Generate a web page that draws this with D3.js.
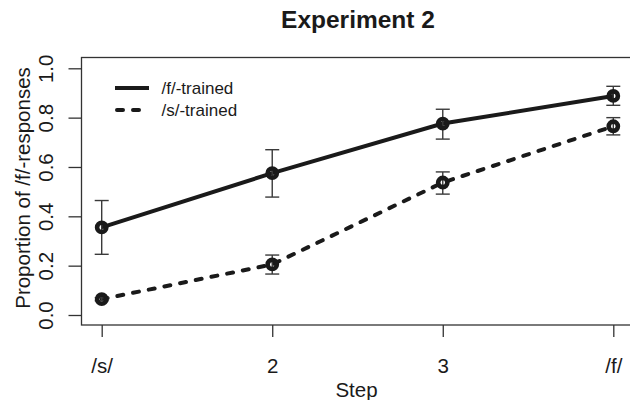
<!DOCTYPE html>
<html>
<head>
<meta charset="utf-8">
<script src="https://cdn.jsdelivr.net/npm/d3@7"></script>
<style>
  body { margin: 0; background: #fff; }
  svg { display: block; font-family: "Liberation Sans", Arial, sans-serif; }
</style>
</head>
<body>
<svg id="chart"></svg>
<script>
var steps = ["/s/", "2", "3", "/f/"];
var fTrained = [0.355, 0.575, 0.776, 0.888];
var fLow = [0.246, 0.478, 0.713, 0.850];
var fHigh = [0.464, 0.670, 0.834, 0.927];
var sTrained = [0.064, 0.205, 0.537, 0.765];
var sLow = [0.058, 0.166, 0.490, 0.730];
var sHigh = [0.070, 0.243, 0.580, 0.800];
var yTicks = [0, 0.2, 0.4, 0.6, 0.8, 1.0];

var width = 630;
var height = 400;

var boxLeft = 81.5;
var boxRight = 631;
var boxTop = 57.5;
var boxBottom = 325;

var svg = d3.select("#chart")
            .attr("width", width)
            .attr("height", height);

var x = d3.scalePoint()
          .domain(steps)
          .range([101.7, 613.3]);

var y = d3.scaleLinear()
          .domain([0, 1])
          .range([315, 68.3]);

var ink = "#1a1a1a";
var axisInk = "#333";

// plot box
svg.append("rect")
   .attr("x", boxLeft)
   .attr("y", boxTop)
   .attr("width", boxRight - boxLeft)
   .attr("height", boxBottom - boxTop)
   .attr("fill", "none")
   .attr("stroke", axisInk)
   .attr("stroke-width", 1.3);

// x axis
var xAxis = d3.axisBottom(x).tickSize(12).tickPadding(21);
var gx = svg.append("g")
            .attr("transform", "translate(0," + boxBottom + ")")
            .call(xAxis);
gx.select(".domain").remove();
gx.selectAll("line").attr("stroke", axisInk).attr("stroke-width", 1.3);
gx.selectAll("text")
  .attr("fill", ink)
  .attr("font-size", 20.5)
  .attr("dy", "0.71em");

// y axis, labels rotated like base R
var yAxis = d3.axisLeft(y).tickValues(yTicks).tickSize(13).tickFormat(d3.format(".1f"));
var gy = svg.append("g")
            .attr("transform", "translate(" + boxLeft + ",0)")
            .call(yAxis);
gy.select(".domain").remove();
gy.selectAll("line").attr("stroke", axisInk).attr("stroke-width", 1.3);
gy.selectAll("text")
  .attr("fill", ink)
  .attr("font-size", 20.5)
  .attr("x", null)
  .attr("y", null)
  .attr("dy", null)
  .attr("text-anchor", "middle")
  .attr("transform", "translate(-29,0) rotate(-90)");

// titles
svg.append("text")
   .attr("x", 358)
   .attr("y", 28)
   .attr("text-anchor", "middle")
   .attr("font-weight", "bold")
   .attr("font-size", 24.5)
   .attr("fill", ink)
   .text("Experiment 2");

svg.append("text")
   .attr("x", 356.5)
   .attr("y", 397)
   .attr("text-anchor", "middle")
   .attr("font-size", 20.5)
   .attr("fill", ink)
   .text("Step");

svg.append("text")
   .attr("transform", "translate(30,188) rotate(-90)")
   .attr("text-anchor", "middle")
   .attr("font-size", 20.5)
   .attr("fill", ink)
   .text("Proportion of /f/-responses");

// series
var series = [
    { name: "/f/-trained", values: fTrained, low: fLow, high: fHigh, dash: null },
    { name: "/s/-trained", values: sTrained, low: sLow, high: sHigh, dash: "6 10" }
];

var line = d3.line()
             .x(function(d, i) { return x(steps[i]); })
             .y(function(d) { return y(d); });

series.forEach(function(s) {
    svg.append("path")
       .datum(s.values)
       .attr("d", line)
       .attr("fill", "none")
       .attr("stroke", ink)
       .attr("stroke-width", 4)
       .attr("stroke-linecap", s.dash ? "round" : "butt")
       .attr("stroke-dasharray", s.dash);

    var bars = svg.append("g")
                  .attr("stroke", "#3a3a3a")
                  .attr("stroke-width", 1.4);

    bars.selectAll("line.bar")
        .data(s.values)
        .enter()
        .append("line")
        .attr("class", "bar")
        .attr("x1", function(d, i) { return x(steps[i]); })
        .attr("x2", function(d, i) { return x(steps[i]); })
        .attr("y1", function(d, i) { return y(s.low[i]); })
        .attr("y2", function(d, i) { return y(s.high[i]); });

    [s.low, s.high].forEach(function(ends) {
        bars.selectAll(null)
            .data(ends)
            .enter()
            .append("line")
            .attr("x1", function(d, i) { return x(steps[i]) - 7; })
            .attr("x2", function(d, i) { return x(steps[i]) + 7; })
            .attr("y1", function(d) { return y(d); })
            .attr("y2", function(d) { return y(d); });
    });

    svg.selectAll(null)
       .data(s.values)
       .enter()
       .append("circle")
       .attr("cx", function(d, i) { return x(steps[i]); })
       .attr("cy", function(d) { return y(d); })
       .attr("r", 4.6)
       .attr("fill", "none")
       .attr("stroke", ink)
       .attr("stroke-width", 4.6);
});

// legend
var legend = svg.append("g");
series.forEach(function(s, i) {
    var ly = 88 + i * 22;
    legend.append("line")
          .attr("x1", s.dash ? 117 : 115)
          .attr("x2", 149)
          .attr("y1", ly)
          .attr("y2", ly)
          .attr("stroke", ink)
          .attr("stroke-width", 4)
          .attr("stroke-linecap", s.dash ? "round" : "butt")
          .attr("stroke-dasharray", s.dash);
    legend.append("text")
          .attr("x", 161.5)
          .attr("y", ly + 6)
          .attr("font-size", 17)
          .attr("fill", ink)
          .text(s.name);
});
</script>
</body>
</html>
